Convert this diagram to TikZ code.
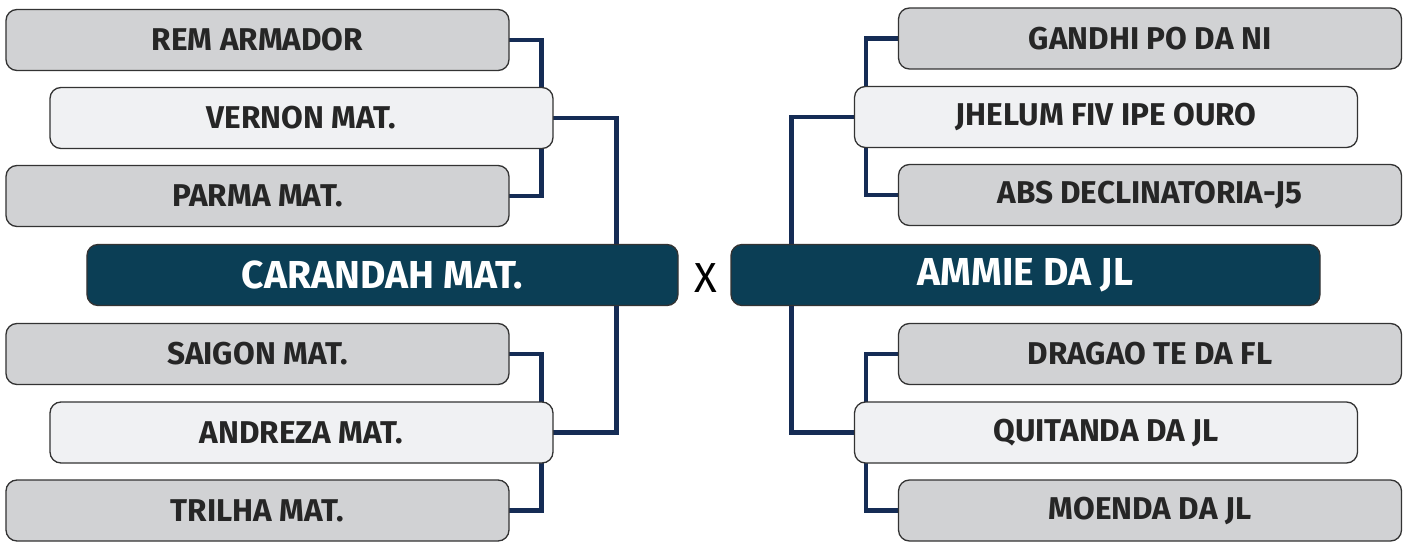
\documentclass[tikz,border=0pt]{standalone}
\usepackage{fontspec}
\setmainfont{Fira Sans}
\usepackage{tikz}
\usetikzlibrary{calc,backgrounds}

\definecolor{seedgray}{HTML}{D1D2D4}
\definecolor{seedlight}{HTML}{F0F1F3}
\definecolor{finalteal}{HTML}{0B3E55}
\definecolor{linknavy}{HTML}{152C55}
\definecolor{boxline}{HTML}{333333}

\tikzset{
  team/.style={draw=boxline,line width=1.3bp,rounded corners=11bp,fill=seedgray,
    minimum width=503bp,minimum height=61bp,inner sep=0pt,text=black!85,
    font=\fontsize{31.5bp}{31.5bp}\selectfont\bfseries},
  seed/.style={team,fill=seedlight},
  final/.style={team,fill=finalteal,minimum width=591bp,text=white,
    font=\fontsize{39bp}{39bp}\selectfont\bfseries},
  link/.style={draw=linknavy,line width=4.5bp,line join=miter,line cap=rect}
}

\begin{document}
\begin{tikzpicture}[x=1bp,y=-1bp]
  \useasboundingbox (0,0) rectangle (1410,543);
%%
  % Node: left bracket
  \node[team]  (rem)      at (257.5,40)    {REM ARMADOR};
  \node[seed]  (vernon)   at (301.5,118)   {VERNON MAT.};
  \node[team]  (parma)    at (257.5,196)   {PARMA MAT.};
  \node[final] (carandah) at (382.5,275)   {CARANDAH MAT.};
  \node[team]  (saigon)   at (257.5,354)   {SAIGON MAT.};
  \node[seed]  (andreza)  at (301.5,432.5) {ANDREZA MAT.};
  \node[team]  (trilha)   at (257.5,510.5) {TRILHA MAT.};
  % Node: right bracket
  \node[team]  (gandhi)   at (1150,38.5)   {GANDHI PO DA NI};
  \node[seed]  (jhelum)   at (1106,117)    {JHELUM FIV IPE OURO};
  \node[team]  (abs)      at (1150,195)    {ABS DECLINATORIA-J5};
  \node[final,minimum width=589bp] (ammie) at (1025.5,275) {AMMIE DA JL};
  \node[team]  (dragao)   at (1150,354)    {DRAGAO TE DA FL};
  \node[seed]  (quitanda) at (1106,432.5)  {QUITANDA DA JL};
  \node[team]  (moenda)   at (1150,510.5)  {MOENDA DA JL};
  % Node: versus
  \node (versus) at (706,278) {\fontsize{42bp}{42bp}\selectfont X};
%
\begin{pgfonlayer}{background}
  % Edge: rem, parma -> vernon -> carandah
  \draw[link] (rem.east) -| ([xshift=-12bp]vernon.north east);
  \draw[link] (parma.east) -| ([xshift=-12bp]vernon.south east);
  \draw[link] (vernon.east) -| ([xshift=-62bp]carandah.north east);
  % Edge: saigon, trilha -> andreza -> carandah
  \draw[link] (saigon.east) -| ([xshift=-12bp]andreza.north east);
  \draw[link] (trilha.east) -| ([xshift=-12bp]andreza.south east);
  \draw[link] ([xshift=-62bp]carandah.south east) |- (andreza.east);
  % Edge: gandhi, abs -> jhelum -> ammie
  \draw[link] (gandhi.west) -| ([xshift=12bp]jhelum.north west);
  \draw[link] (abs.west) -| ([xshift=12bp]jhelum.south west);
  \draw[link] (jhelum.west) -| ([xshift=61bp]ammie.north west);
  % Edge: dragao, moenda -> quitanda -> ammie
  \draw[link] (dragao.west) -| ([xshift=12bp]quitanda.north west);
  \draw[link] (moenda.west) -| ([xshift=12bp]quitanda.south west);
  \draw[link] ([xshift=61bp]ammie.south west) |- (quitanda.west);
\end{pgfonlayer}
\end{tikzpicture}
\end{document}
